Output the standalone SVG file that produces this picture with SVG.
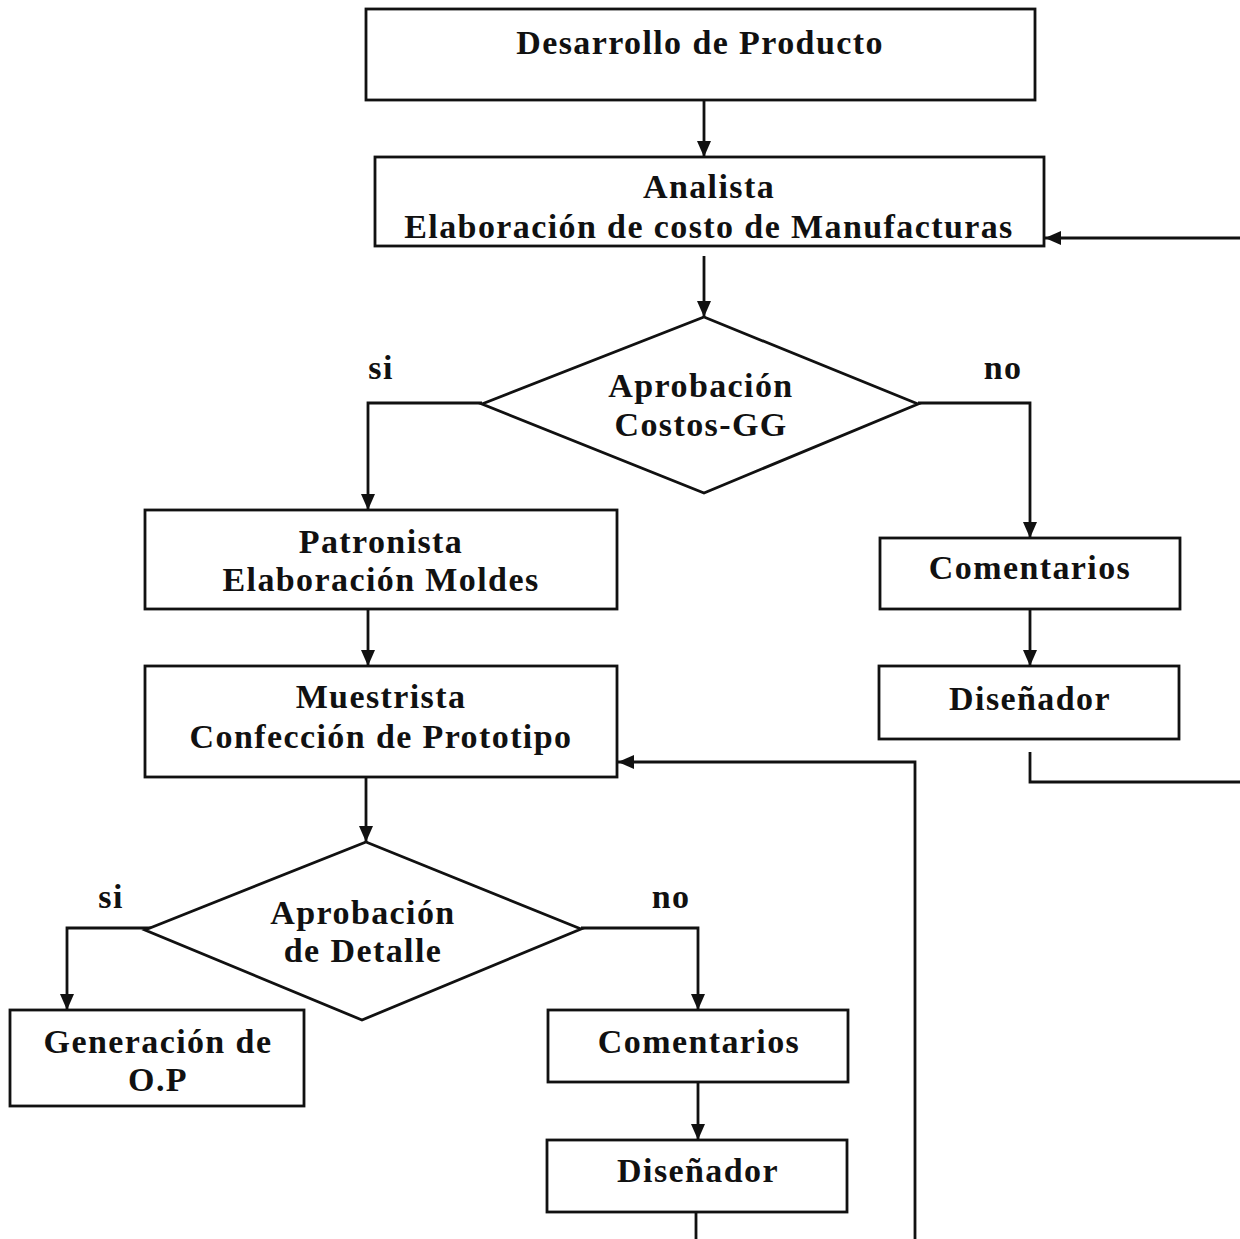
<svg xmlns="http://www.w3.org/2000/svg" width="1240" height="1239" viewBox="0 0 1240 1239">
<defs>
<marker id="ah" viewBox="0 0 16 14" refX="16" refY="7" markerWidth="16" markerHeight="14" markerUnits="userSpaceOnUse" orient="auto">
<path d="M0,0 L16,7 L0,14 z" fill="#111"/>
</marker>
</defs>
<style>
.b{fill:#fff;stroke:#111;stroke-width:2.8}
.t{font-family:"Liberation Serif","Times New Roman",serif;font-weight:bold;font-size:34px;letter-spacing:1.4px;fill:#111;text-anchor:middle}
.c{fill:none;stroke:#111;stroke-width:2.8}
.a{marker-end:url(#ah)}
</style>
<rect width="1240" height="1239" fill="#fff"/>
<g id="connectors">
<path class="c a" d="M704,100 V157"/>
<path class="c a" d="M1240,238 H1045"/>
<path class="c a" d="M704,256 V317"/>
<path class="c a" d="M482,403 H368 V510"/>
<path class="c a" d="M918,403 H1030 V538"/>
<path class="c a" d="M368,609 V666"/>
<path class="c a" d="M366,777 V842"/>
<path class="c a" d="M180,928 H67 V1010"/>
<path class="c a" d="M581,928 H698 V1010"/>
<path class="c a" d="M698,1082 V1140"/>
<path class="c" d="M696,1212 V1239"/>
<path class="c a" d="M915,1239 V762 H618"/>
<path class="c a" d="M1030,609 V666"/>
<path class="c" d="M1030,752 V782 H1240"/>
<text class="t" x="381" y="379">si</text>
<text class="t" x="1003" y="379">no</text>
<text class="t" x="111" y="908">si</text>
<text class="t" x="671" y="908">no</text>
</g>
<g id="n1"><rect class="b" x="366" y="9" width="669" height="91"/><text class="t" x="700" y="54">Desarrollo de Producto</text></g>
<g id="n2"><rect class="b" x="375" y="157" width="669" height="89"/><text class="t" x="709" y="198">Analista</text><text class="t" x="709" y="238">Elaboración de costo de Manufacturas</text></g>
<g id="d1"><polygon class="b" points="704,317 918,404 704,493 482,404"/><text class="t" x="701" y="397">Aprobación</text><text class="t" x="701" y="436">Costos-GG</text></g>
<g id="n3"><rect class="b" x="145" y="510" width="472" height="99"/><text class="t" x="381" y="553">Patronista</text><text class="t" x="381" y="591">Elaboración Moldes</text></g>
<g id="n4"><rect class="b" x="145" y="666" width="472" height="111"/><text class="t" x="381" y="708">Muestrista</text><text class="t" x="381" y="748">Confección de Prototipo</text></g>
<g id="d2"><polygon class="b" points="366,842 581,929 362,1020 145,930"/><text class="t" x="363" y="924">Aprobación</text><text class="t" x="363" y="962">de Detalle</text></g>
<g id="n5"><rect class="b" x="10" y="1010" width="294" height="96"/><text class="t" x="158" y="1053">Generación de</text><text class="t" x="158" y="1091">O.P</text></g>
<g id="n6"><rect class="b" x="548" y="1010" width="300" height="72"/><text class="t" x="699" y="1053">Comentarios</text></g>
<g id="n7"><rect class="b" x="547" y="1140" width="300" height="72"/><text class="t" x="698" y="1182">Diseñador</text></g>
<g id="n8"><rect class="b" x="880" y="538" width="300" height="71"/><text class="t" x="1030" y="579">Comentarios</text></g>
<g id="n9"><rect class="b" x="879" y="666" width="300" height="73"/><text class="t" x="1030" y="710">Diseñador</text></g>
</svg>
